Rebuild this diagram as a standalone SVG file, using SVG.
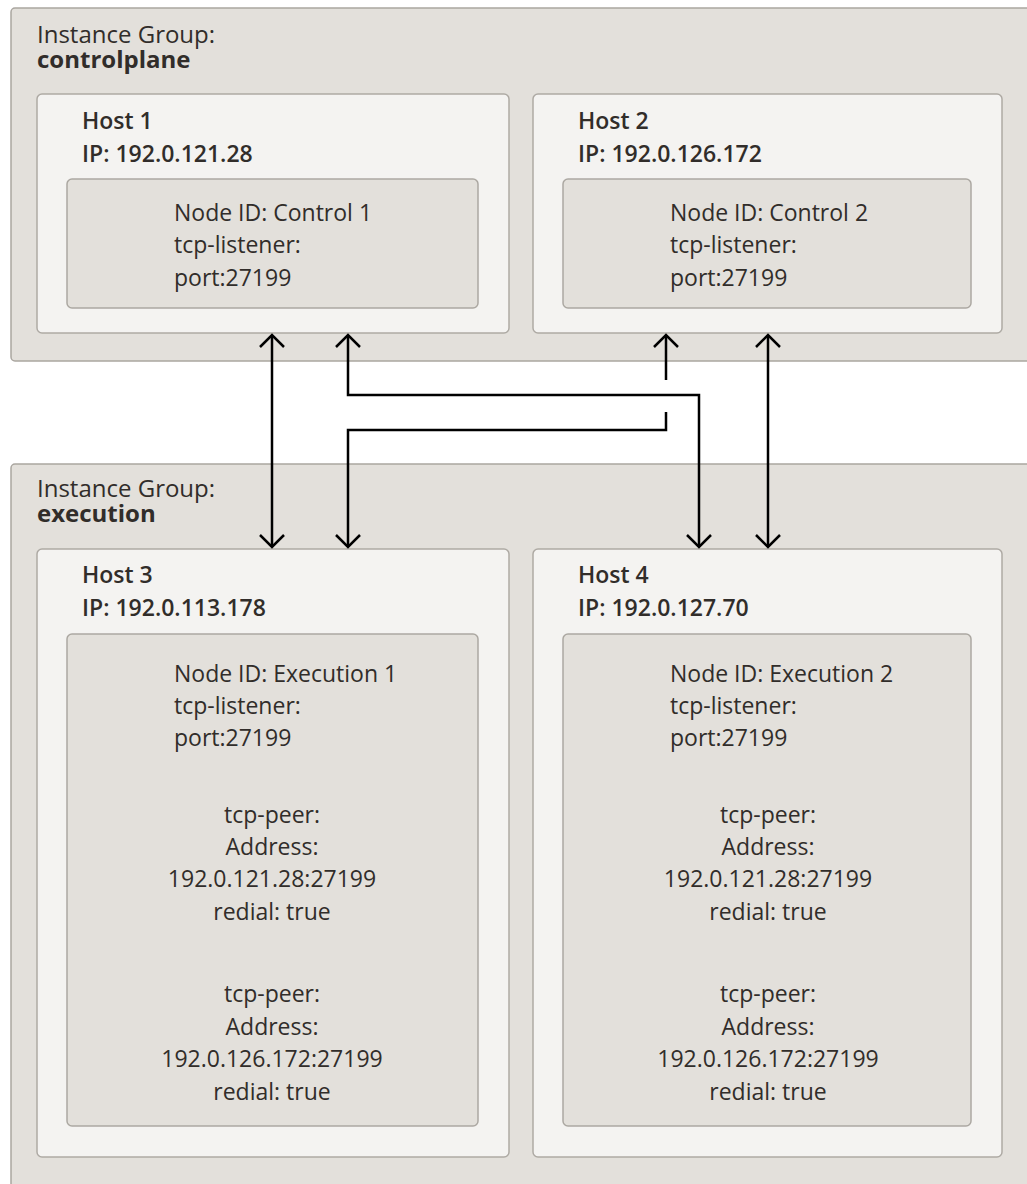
<svg xmlns="http://www.w3.org/2000/svg" width="1027" height="1184" viewBox="0 0 1027 1184">
<defs>
<style>
.grp{fill:#e3e0db;stroke:#aaa6a0;stroke-width:1.5}
.host{fill:#f4f3f1;stroke:#aeaaa4;stroke-width:1.5}
.inner{fill:#e3e0db;stroke:#aca8a2;stroke-width:1.5}
text{font-family:"Open Sans","Noto Sans","Liberation Sans",sans-serif;fill:#312d2a;font-size:23px}
.gl{font-size:24px}
.gn{font-weight:700;font-size:24px}
.hl{font-weight:600}
.c{text-anchor:middle}
.conn{fill:none;stroke:#000;stroke-width:2.5}
</style>
<marker id="ah" markerUnits="userSpaceOnUse" viewBox="-15 -14 17 28" refX="0" refY="0" markerWidth="17" markerHeight="28" orient="auto-start-reverse">
<path d="M-12,-12 L0,0 L-12,12" fill="none" stroke="#000" stroke-width="2.5"/>
</marker>
</defs>

<g id="group-controlplane">
<rect class="grp" x="11" y="8" width="1030" height="353" rx="4"/>
<text class="gl" x="37" y="43">Instance Group:</text>
<text class="gn" x="37" y="68">controlplane</text>
</g>
<g id="group-execution">
<rect class="grp" x="11" y="464" width="1030" height="740" rx="4"/>
<text class="gl" x="37" y="497">Instance Group:</text>
<text class="gn" x="37" y="522">execution</text>
</g>

<g id="host1">
<rect class="host" x="37" y="94" width="472" height="239" rx="5"/>
<text class="hl" x="82" y="129">Host 1</text>
<text class="hl" x="82" y="162">IP: 192.0.121.28</text>
<rect class="inner" x="67" y="179" width="411" height="129" rx="5"/>
<text x="174" y="221">Node ID: Control 1</text>
<text x="174" y="253">tcp-listener:</text>
<text x="174" y="286">port:27199</text>
</g>

<g id="host2">
<rect class="host" x="533" y="94" width="469" height="239" rx="5"/>
<text class="hl" x="578" y="129">Host 2</text>
<text class="hl" x="578" y="162">IP: 192.0.126.172</text>
<rect class="inner" x="563" y="179" width="408" height="129" rx="5"/>
<text x="670" y="221">Node ID: Control 2</text>
<text x="670" y="253">tcp-listener:</text>
<text x="670" y="286">port:27199</text>
</g>

<g id="host3">
<rect class="host" x="37" y="549" width="472" height="608" rx="5"/>
<text class="hl" x="82" y="583">Host 3</text>
<text class="hl" x="82" y="616">IP: 192.0.113.178</text>
<rect class="inner" x="67" y="634" width="411" height="492" rx="5"/>
<text x="174" y="682">Node ID: Execution 1</text>
<text x="174" y="714">tcp-listener:</text>
<text x="174" y="746">port:27199</text>
<text class="c" x="272" y="823">tcp-peer:</text>
<text class="c" x="272" y="855">Address:</text>
<text class="c" x="272" y="887">192.0.121.28:27199</text>
<text class="c" x="272" y="920">redial: true</text>
<text class="c" x="272" y="1002">tcp-peer:</text>
<text class="c" x="272" y="1035">Address:</text>
<text class="c" x="272" y="1067">192.0.126.172:27199</text>
<text class="c" x="272" y="1100">redial: true</text>
</g>

<g id="host4">
<rect class="host" x="533" y="549" width="469" height="608" rx="5"/>
<text class="hl" x="578" y="583">Host 4</text>
<text class="hl" x="578" y="616">IP: 192.0.127.70</text>
<rect class="inner" x="563" y="634" width="408" height="492" rx="5"/>
<text x="670" y="682">Node ID: Execution 2</text>
<text x="670" y="714">tcp-listener:</text>
<text x="670" y="746">port:27199</text>
<text class="c" x="768" y="823">tcp-peer:</text>
<text class="c" x="768" y="855">Address:</text>
<text class="c" x="768" y="887">192.0.121.28:27199</text>
<text class="c" x="768" y="920">redial: true</text>
<text class="c" x="768" y="1002">tcp-peer:</text>
<text class="c" x="768" y="1035">Address:</text>
<text class="c" x="768" y="1067">192.0.126.172:27199</text>
<text class="c" x="768" y="1100">redial: true</text>
</g>

<g id="connectors">
<path class="conn" d="M272,335 V547" marker-start="url(#ah)" marker-end="url(#ah)"/>
<path class="conn" d="M348,335 V395 H699 V547" marker-start="url(#ah)" marker-end="url(#ah)"/>
<path class="conn" d="M666,380 V335" marker-end="url(#ah)"/>
<path class="conn" d="M666,412 V430 H348 V547" marker-end="url(#ah)"/>
<path class="conn" d="M768,335 V547" marker-start="url(#ah)" marker-end="url(#ah)"/>
</g>
</svg>
